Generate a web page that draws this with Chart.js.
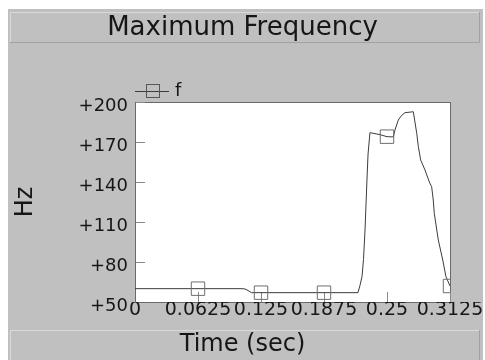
<!DOCTYPE html>
<html lang="en">
<head>
<meta charset="UTF-8">
<title>Maximum Frequency</title>
<script src="https://cdn.jsdelivr.net/npm/chart.js"></script>
<style>
  html, body { margin: 0; padding: 0; background: #ffffff; }
  #freqChart { display: block; }
</style>
</head>
<body>
<canvas id="freqChart" width="485" height="360"></canvas>
<script>
// values
const timeSec = [0, 0.0625, 0.1071, 0.1101, 0.1157, 0.125, 0.1875, 0.2212, 0.2232, 0.2252, 0.2267,
  0.2282, 0.2302, 0.2312, 0.2331, 0.2431, 0.25, 0.2563, 0.2579, 0.2612, 0.2646, 0.2679, 0.2761,
  0.2795, 0.2811, 0.2834, 0.2877, 0.2920, 0.2943, 0.2959, 0.2969, 0.3009, 0.3053, 0.3085, 0.3125];
const freqHz = [60, 60, 60, 59.5, 57, 57, 57, 57, 62.5, 69, 82,
  104, 143, 161, 177, 175.5, 174, 173.8, 179, 186.5, 190, 192, 192.7,
  176.5, 166.5, 156.5, 149, 140, 136.5, 126.5, 116.5, 96.5, 81.5, 69, 62];
const markerTimes = [0.0625, 0.125, 0.1875, 0.25, 0.3125];
const xTickLabels = ['0', '0.0625', '0.125', '0.1875', '0.25', '0.3125'];
const yTickLabels = ['+50', '+80', '+110', '+140', '+170', '+200'];

const textColor = '#161616';
const fontFamily = '"DejaVu Sans", Verdana, sans-serif';

// legend icon: line with a hollow square
const legendIcon = document.createElement('canvas');
legendIcon.width = 35;
legendIcon.height = 16;
const ic = legendIcon.getContext('2d');
ic.strokeStyle = '#3c3c3c';
ic.lineWidth = 1;
ic.beginPath();
ic.moveTo(0, 8.5);
ic.lineTo(35, 8.5);
ic.stroke();
ic.strokeStyle = '#555555';
ic.strokeRect(12.5, 1.5, 13, 13);

function bevelBox(ctx, x, y, w, h) {
  ctx.fillStyle = '#c0c0c0';
  ctx.fillRect(x, y, w, h);
  ctx.lineWidth = 1;
  ctx.strokeStyle = '#dadada';
  ctx.beginPath();
  ctx.moveTo(x + 0.5, y + h);
  ctx.lineTo(x + 0.5, y + 0.5);
  ctx.lineTo(x + w, y + 0.5);
  ctx.stroke();
  ctx.strokeStyle = '#a2a2a2';
  ctx.beginPath();
  ctx.moveTo(x + w - 0.5, y);
  ctx.lineTo(x + w - 0.5, y + h - 0.5);
  ctx.lineTo(x, y + h - 0.5);
  ctx.stroke();
}

const backdrop = {
  id: 'backdrop',
  beforeDraw(chart) {
    const {ctx, chartArea: a} = chart;
    ctx.save();
    ctx.fillStyle = '#ffffff';
    ctx.fillRect(0, 0, chart.width, chart.height);
    ctx.fillStyle = '#c0c0c0';
    ctx.fillRect(8, 9, 475, 351);
    bevelBox(ctx, 10, 12, 470, 31);
    bevelBox(ctx, 10, 330, 470, 31);
    ctx.fillStyle = '#ffffff';
    ctx.fillRect(a.left, a.top, a.right - a.left, a.bottom - a.top);
    ctx.strokeStyle = '#6a6a6a';
    ctx.strokeRect(a.left + 0.5, a.top + 0.5, a.right - a.left, a.bottom - a.top);
    ctx.restore();
  }
};

new Chart(document.getElementById('freqChart'), {
  type: 'line',
  data: {
    datasets: [{
      label: 'f',
      data: timeSec.map((t, i) => ({x: t, y: freqHz[i]})),
      borderColor: '#3c3c3c',
      borderWidth: 1,
      pointStyle: 'rect',
      pointRadius: c => markerTimes.includes(c.raw && c.raw.x) ? 9.5 : 0,
      pointBorderColor: '#6e6e6e',
      pointBackgroundColor: 'rgba(0,0,0,0)',
      pointBorderWidth: 1,
      tension: 0,
      clip: 0
    }]
  },
  options: {
    responsive: false,
    animation: false,
    layout: { padding: 0 },
    scales: {
      x: {
        type: 'linear',
        min: 0,
        max: 0.3125,
        afterFit: s => { s.height = 28; s.paddingLeft = 0; s.paddingRight = 35; },
        border: { display: true, color: '#6a6a6a' },
        grid: { drawOnChartArea: false, drawTicks: true, tickLength: -10, tickColor: '#8a8a8a' },
        ticks: {
          stepSize: 0.0625,
          autoSkip: false,
          maxRotation: 0,
          minRotation: 0,
          padding: 7,
          color: textColor,
          font: { family: fontFamily, size: 19 },
          callback: (v, i) => xTickLabels[i]
        }
      },
      y: {
        min: 50,
        max: 200,
        afterFit: s => { s.width = 135; },
        border: { display: true, color: '#6a6a6a' },
        grid: { drawOnChartArea: false, drawTicks: true, tickLength: -10, tickColor: '#8a8a8a' },
        ticks: {
          stepSize: 30,
          padding: 17,
          labelOffset: 4,
          color: textColor,
          font: { family: fontFamily, size: 18 },
          callback: (v, i) => yTickLabels[i]
        },
        title: {
          display: true,
          text: 'Hz',
          color: textColor,
          font: { family: fontFamily, size: 24 },
          padding: { top: 11.6, bottom: 0 }
        }
      }
    },
    plugins: {
      title: {
        display: true,
        text: 'Maximum Frequency',
        color: textColor,
        font: { family: fontFamily, size: 26, weight: 'normal' },
        padding: { top: 13, bottom: 35.8 }
      },
      subtitle: {
        display: true,
        position: 'bottom',
        text: 'Time (sec)',
        color: textColor,
        font: { family: fontFamily, size: 24, lineHeight: 1.25 },
        padding: { top: 0, bottom: 0 }
      },
      legend: {
        position: 'top',
        align: 'start',
        fullSize: false,
        maxHeight: 22,
        labels: {
          usePointStyle: true,
          pointStyle: legendIcon,
          pointStyleWidth: 29,
          padding: 2,
          color: textColor,
          font: { family: fontFamily, size: 18 }
        }
      },
      tooltip: { enabled: false }
    }
  },
  plugins: [backdrop]
});
</script>
</body>
</html>
